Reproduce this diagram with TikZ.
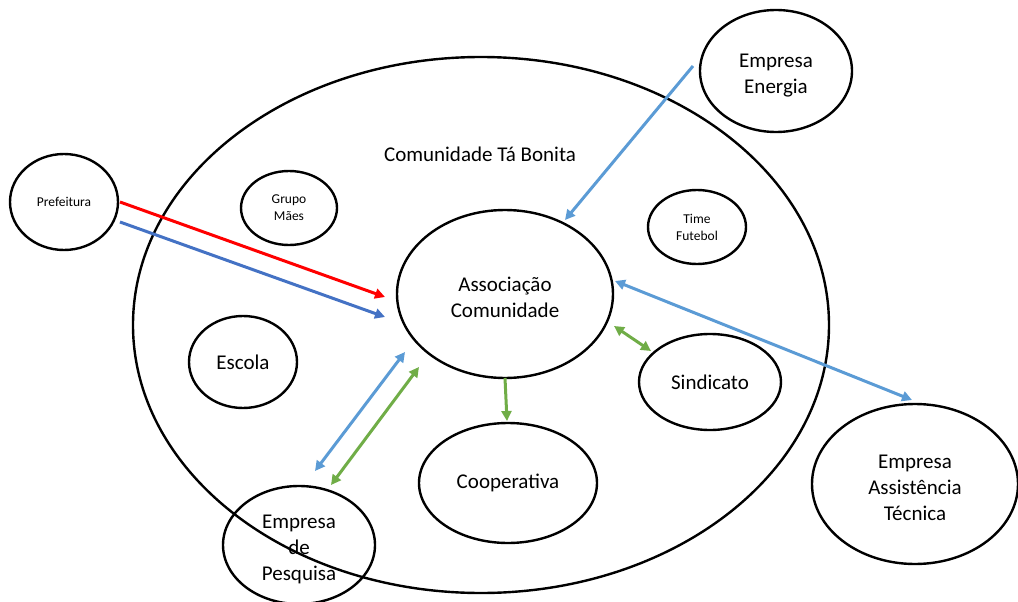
\documentclass[tikz,border=0pt]{standalone}
\usepackage{fontspec}
\setmainfont{Carlito}
\usetikzlibrary{shapes.geometric,arrows.meta}
\definecolor{arrred}{HTML}{FF0000}
\definecolor{arrnavy}{HTML}{4472C4}
\definecolor{arrsky}{HTML}{5B9BD5}
\definecolor{arrgreen}{HTML}{70AD47}
\newcommand{\lowerstrut}{\rule{0pt}{22pt}}
\tikzset{
  actor/.style={ellipse, draw=black, line width=2.4pt, inner sep=0pt, align=center,
    font=\fontsize{21}{26}\selectfont},
  small/.style={font=\fontsize{13.5}{17}\selectfont},
  link/.style={line width=3pt, -{Triangle[length=10pt,width=10pt]}},
  both/.style={line width=3pt, {Triangle[length=10pt,width=10pt]}-{Triangle[length=10pt,width=10pt]}}
}
\begin{document}
\begin{tikzpicture}[x=1pt,y=-1pt]
\useasboundingbox (0,0) rectangle (1018,602);
% community boundary
\node[ellipse, draw=black, line width=2.4pt, minimum width=696pt, minimum height=536pt, inner sep=0pt] (comunidade) at (481,325) {};
\node[font=\fontsize{21}{26}\selectfont] (titulo) at (480,154) {Comunidade Tá Bonita};
% actors (a taller first line lowers stacked labels a little)
\node[actor, small, minimum width=108pt, minimum height=96pt] (pref) at (64,202) {Prefeitura};
\node[actor, small, minimum width=96pt, minimum height=74pt] (maes) at (289,208) {Grupo\\Mães};
\node[actor, minimum width=152pt, minimum height=122pt] (energia) at (776,71) {\lowerstrut Empresa\\Energia};
\node[actor, small, minimum width=98pt, minimum height=74pt] (time) at (697,227) {Time\\Futebol};
\node[actor, minimum width=216pt, minimum height=168pt] (assoc) at (505,294) {\lowerstrut Associação\\Comunidade};
\node[actor, minimum width=142pt, minimum height=96pt] (sind) at (710,382) {Sindicato};
\node[actor, minimum width=178pt, minimum height=120pt] (coop) at (508,483) {Cooperativa};
\node[actor, minimum width=108pt, minimum height=92pt] (escola) at (243,362) {Escola};
\node[actor, minimum width=152pt, minimum height=118pt] (pesq) at (299,545) {\lowerstrut Empresa\\de\\Pesquisa};
\node[actor, minimum width=206pt, minimum height=160pt] (assist) at (915,484) {\lowerstrut Empresa\\Assistência\\Técnica};
% connector ends
\coordinate (prefR) at (120,202);
\coordinate (assocR) at (385,297);
\coordinate (prefB) at (120,222);
\coordinate (assocB) at (385,317);
\coordinate (energiaS) at (693,66);
\coordinate (assocE) at (565,220);
\coordinate (assocT) at (615,281);
\coordinate (assistT) at (912,400);
\coordinate (assocS) at (614,326);
\coordinate (sindA) at (651,351);
\coordinate (assocC) at (505,378);
\coordinate (coopA) at (507,421);
\coordinate (assocP) at (405,352);
\coordinate (pesqP) at (315,471);
\coordinate (assocG) at (419,367);
\coordinate (pesqG) at (331,485);
% connectors
\draw[link, draw=arrred, fill=arrred] (prefR) -- (assocR);
\draw[link, draw=arrnavy, fill=arrnavy] (prefB) -- (assocB);
\draw[link, draw=arrsky, fill=arrsky] (energiaS) -- (assocE);
\draw[both, draw=arrsky, fill=arrsky] (assocT) -- (assistT);
\draw[both, draw=arrgreen, fill=arrgreen] (assocS) -- (sindA);
\draw[link, draw=arrgreen, fill=arrgreen] (assocC) -- (coopA);
\draw[both, draw=arrsky, fill=arrsky] (assocP) -- (pesqP);
\draw[both, draw=arrgreen, fill=arrgreen] (assocG) -- (pesqG);
\end{tikzpicture}
\end{document}
